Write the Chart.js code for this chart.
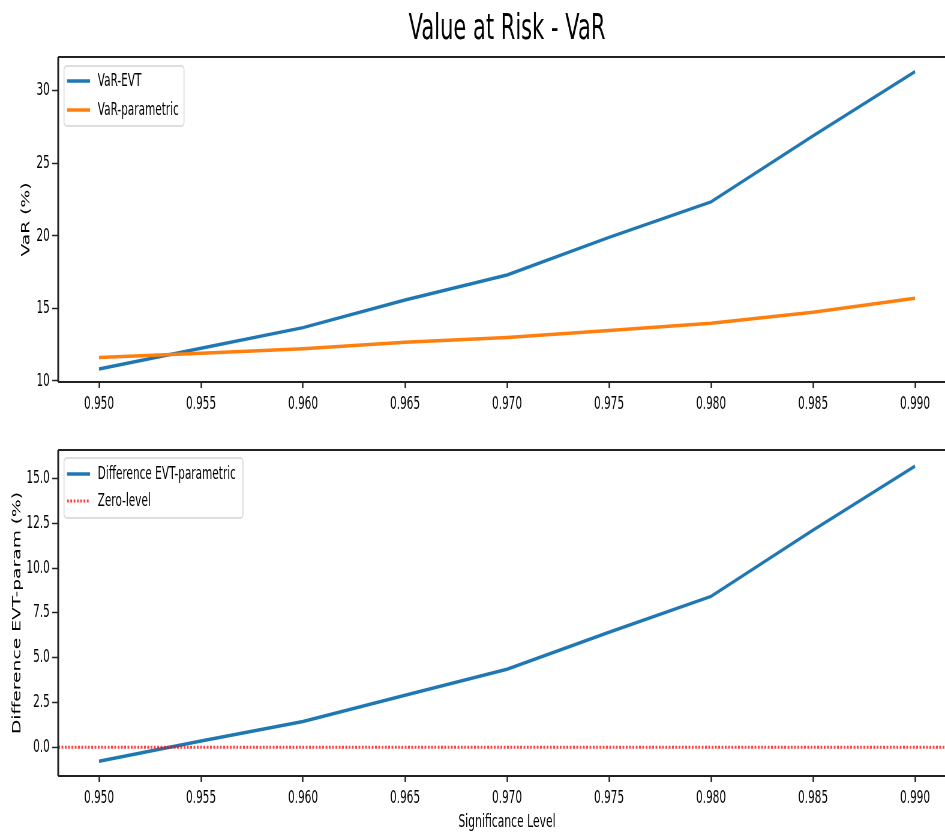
<!DOCTYPE html>
<html>
<head>
<meta charset="utf-8">
<title>Value at Risk - VaR</title>
<script src="https://cdn.jsdelivr.net/npm/chart.js@4.4.1/dist/chart.umd.min.js"></script>
<style>
  html, body { margin: 0; padding: 0; background: #fff; overflow: hidden; width: 945px; height: 833px; }
  #clip { position: absolute; left: 0; top: 0; width: 945px; height: 833px; overflow: hidden; }
  /* the reference figure is squeezed horizontally, so the canvases are too */
  .squeeze { position: absolute; left: 0; transform: scaleX(0.6); transform-origin: 0 0; }
  #topWrap { top: 0; }
  #botWrap { top: 420px; }
</style>
</head>
<body>
<div id="clip">
  <div class="squeeze" id="topWrap"><canvas id="varChart" width="1620" height="420"></canvas></div>
  <div class="squeeze" id="botWrap"><canvas id="diffChart" width="1620" height="413"></canvas></div>
</div>
<script>
// data
const levels = [0.950, 0.955, 0.960, 0.965, 0.970, 0.975, 0.980, 0.985, 0.990];
const varEvt = [10.83, 12.25, 13.68, 15.59, 17.31, 19.90, 22.35, 26.90, 31.33];
const varParam = [11.62, 11.92, 12.22, 12.67, 12.99, 13.48, 13.98, 14.74, 15.70];
const diffEvtParam = [-0.78, 0.35, 1.43, 2.90, 4.35, 6.42, 8.42, 12.12, 15.70];
const zeroLevel = [0, 0];

const xRange = [0.948, 0.992];
const xTicks = [0.950, 0.955, 0.960, 0.965, 0.970, 0.975, 0.980, 0.985, 0.990];
const varTicks = [10, 15, 20, 25, 30];
const diffTicks = [0, 2.5, 5, 7.5, 10, 12.5, 15];

const SX = 0.6; // horizontal squeeze

Chart.defaults.font.family = "'DejaVu Sans', sans-serif";
Chart.defaults.color = '#000';

function pts(xs, ys) {
  return xs.map((x, i) => ({ x: x, y: ys[i] }));
}

// matplotlib-like frame and boxed legend
const mplBox = {
  id: 'mplBox',
  afterDraw(chart, args, opts) {
    const ctx = chart.ctx;
    const a = chart.chartArea;
    ctx.save();
    ctx.strokeStyle = '#222';
    ctx.lineWidth = 2;
    ctx.beginPath();
    ctx.moveTo(a.left, a.top); ctx.lineTo(a.right, a.top);
    ctx.moveTo(a.left, a.bottom); ctx.lineTo(a.right, a.bottom);
    ctx.stroke();
    ctx.lineWidth = 3;
    ctx.beginPath();
    ctx.moveTo(a.left, a.top); ctx.lineTo(a.left, a.bottom);
    ctx.stroke();

    const L = opts.legend;
    const x0 = a.left + L.dx / SX;
    const y0 = a.top + L.dy;
    ctx.fillStyle = 'rgba(255,255,255,0.8)';
    ctx.strokeStyle = '#d4d4d4';
    ctx.lineWidth = 1.5;
    ctx.beginPath();
    ctx.roundRect(x0, y0, L.w / SX, L.h, 4);
    ctx.fill();
    ctx.stroke();

    ctx.font = "17.5px 'DejaVu Sans', sans-serif";
    ctx.textBaseline = 'middle';
    ctx.textAlign = 'left';
    chart.data.datasets.forEach((ds, i) => {
      const y = y0 + L.rowY[i];
      ctx.strokeStyle = ds.borderColor;
      ctx.lineWidth = ds.borderWidth;
      ctx.setLineDash(ds.borderDash || []);
      ctx.beginPath();
      ctx.moveTo(x0 + 3 / SX, y);
      ctx.lineTo(x0 + 26 / SX, y);
      ctx.stroke();
      ctx.setLineDash([]);
      ctx.fillStyle = '#000';
      ctx.fillText(ds.label, x0 + 33.7 / SX, y);
    });
    ctx.restore();
  }
};

function xScale(height, showTitle) {
  return {
    type: 'linear',
    min: xRange[0],
    max: xRange[1],
    afterBuildTicks: s => { s.ticks = xTicks.map(v => ({ value: v })); },
    afterFit: s => { s.height = height; },
    ticks: { callback: v => v.toFixed(3), font: { size: 17.5 }, color: '#000', padding: 5.5, maxRotation: 0, autoSkip: false },
    grid: { drawOnChartArea: false, drawTicks: true, tickLength: 6, tickWidth: 2.5, tickColor: '#222' },
    border: { display: false },
    title: { display: showTitle, text: 'Significance Level', font: { size: 18 }, color: '#000', padding: { top: 0, bottom: 0 } }
  };
}

// empty top axis that only carries the figure title, centred over the plot
function titleScale(text) {
  return {
    type: 'linear',
    position: 'top',
    min: xRange[0],
    max: xRange[1],
    afterFit: s => { s.height = 57; },
    ticks: { display: false },
    grid: { display: false },
    border: { display: false },
    title: { display: true, text: text, font: { size: 35 }, color: '#000', padding: { top: 9, bottom: 0 } }
  };
}

function yScale(min, max, ticks, fmt, label, titleSize, titlePad) {
  return {
    min: min,
    max: max,
    afterBuildTicks: s => { s.ticks = ticks.map(v => ({ value: v })); },
    afterFit: s => { s.width = 97; },
    ticks: { callback: fmt, font: { size: 17.5 }, color: '#000', padding: 4 },
    grid: { drawOnChartArea: false, drawTicks: true, tickLength: 10, tickWidth: 1.5, tickColor: '#222' },
    border: { display: false },
    title: { display: true, text: label, font: { size: titleSize }, color: '#000', padding: { top: titlePad, bottom: 0 } }
  };
}

new Chart(document.getElementById('varChart'), {
  type: 'line',
  data: {
    datasets: [
      { label: 'VaR-EVT', data: pts(levels, varEvt), borderColor: '#1f77b4', borderWidth: 3.5, pointRadius: 0, order: 1 },
      { label: 'VaR-parametric', data: pts(levels, varParam), borderColor: '#ff7f0e', borderWidth: 3.5, pointRadius: 0, order: 0 }
    ]
  },
  options: {
    responsive: false,
    animation: false,
    devicePixelRatio: 1,
    layout: { padding: { left: 0, right: 27, top: 0, bottom: 0 }, autoPadding: false },
    scales: {
      x: xScale(38, false),
      top: titleScale('Value at Risk - VaR'),
      y: yScale(9.93, 32.34, varTicks, v => String(v), 'VaR (%)', 18.7, 33)
    },
    plugins: {
      legend: { display: false },
      tooltip: { enabled: false },
      mplBox: { legend: { dx: 5.8, dy: 9, w: 120, h: 60, rowY: [15, 44] } }
    }
  },
  plugins: [mplBox]
});

new Chart(document.getElementById('diffChart'), {
  type: 'line',
  data: {
    datasets: [
      { label: 'Difference EVT-parametric', data: pts(levels, diffEvtParam), borderColor: '#1f77b4', borderWidth: 3.5, pointRadius: 0, order: 1 },
      { label: 'Zero-level', data: pts(xRange, zeroLevel), borderColor: 'rgba(255,0,0,0.75)', borderWidth: 3, borderDash: [3, 2.5], pointRadius: 0, order: 0 }
    ]
  },
  options: {
    responsive: false,
    animation: false,
    devicePixelRatio: 1,
    layout: { padding: { left: 0, right: 27, top: 30, bottom: 0 }, autoPadding: false },
    scales: {
      x: xScale(57, true),
      y: yScale(-1.61, 16.6, diffTicks, v => v.toFixed(1), 'Difference EVT-param (%)', 18.7, 18)
    },
    plugins: {
      legend: { display: false },
      tooltip: { enabled: false },
      mplBox: { legend: { dx: 5.8, dy: 8, w: 179, h: 60, rowY: [16, 43] } }
    }
  },
  plugins: [mplBox]
});
</script>
</body>
</html>
